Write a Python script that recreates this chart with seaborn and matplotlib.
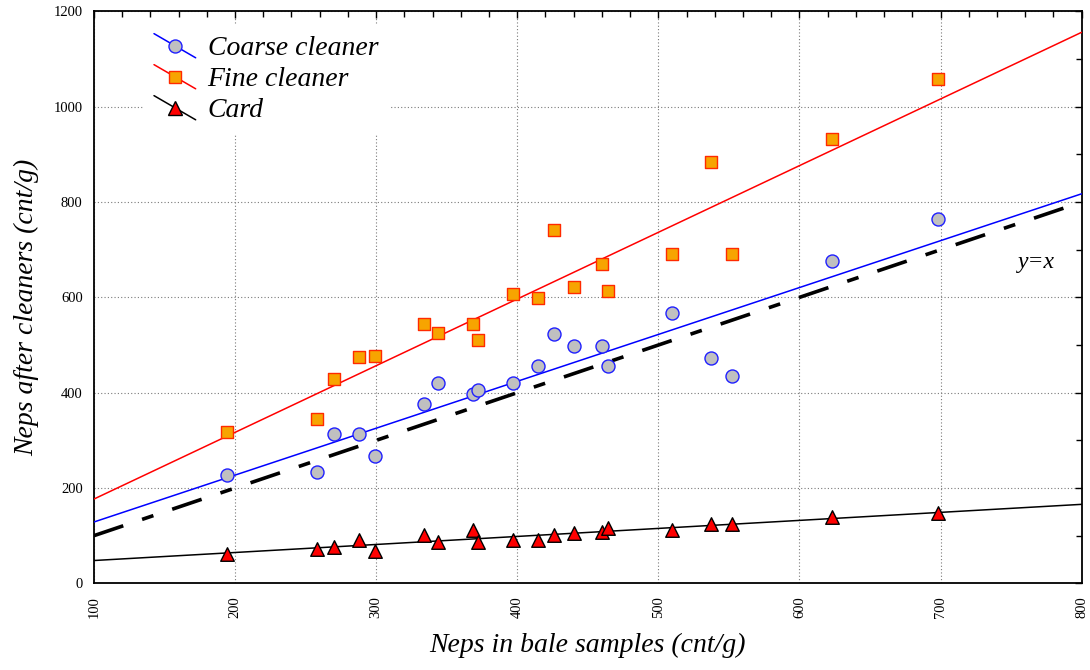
import matplotlib
matplotlib.use("Agg")
import matplotlib.pyplot as plt
import seaborn as sns
from matplotlib.lines import Line2D
from matplotlib.legend_handler import HandlerBase
from matplotlib.ticker import MultipleLocator

# Neps counts (cnt/g) for the 20 bale samples and after each processing stage
bale_neps = [194, 258, 270, 288, 299, 334, 344, 369, 372, 397,
             415, 426, 440, 460, 464, 510, 537, 552, 623, 698]
coarse_neps = [227, 234, 313, 313, 268, 376, 420, 398, 406, 420,
               457, 523, 498, 498, 457, 568, 472, 435, 676, 764]
fine_neps = [318, 344, 429, 474, 478, 544, 526, 544, 511, 607,
             599, 741, 622, 670, 614, 692, 885, 692, 932, 1059]
card_neps = [61, 72, 76, 91, 68, 102, 87, 112, 86, 90,
             90, 102, 105, 107, 116, 112, 124, 124, 139, 147]

series_labels = ["Coarse cleaner", "Fine cleaner", "Card"]
x_label = "Neps in bale samples (cnt/g)"
y_label = "Neps after cleaners (cnt/g)"

sns.set_style("white")
plt.rcParams.update({
    "font.family": ["Liberation Serif", "DejaVu Serif"],
    "text.color": "black",
    "axes.labelcolor": "black",
    "xtick.color": "black",
    "ytick.color": "black",
})

styles = [
    dict(marker="o", s=88, face="#c0c0c0", edge="#1f1fff", line="#0000ff"),
    dict(marker="s", s=64, face="#f7a400", edge="#ff2a00", line="#ff0000"),
    dict(marker="^", s=95, face="#ff0000", edge="#000000", line="#000000"),
]

fig = plt.figure(figsize=(10.9, 6.7), dpi=100)
ax = fig.add_axes([0.0861, 0.1293, 0.9063, 0.8537])
ax.set_xlim(100, 800)
ax.set_ylim(0, 1200)

for values, st in zip([coarse_neps, fine_neps, card_neps], styles):
    sns.regplot(
        x=bale_neps, y=values, ax=ax, ci=None, truncate=False,
        marker=st["marker"],
        scatter_kws=dict(s=st["s"], facecolor=st["face"], edgecolor=st["edge"],
                         linewidths=1.0, alpha=1, zorder=4),
        line_kws=dict(color=st["line"], lw=1.1, zorder=3),
    )

# identity reference line
ax.axline((0, 0), slope=1, color="black", lw=2.6,
          dashes=(8.6, 5.5, 3.3, 5.5), zorder=2)
ax.text(768, 674, "y=x", fontsize=17, style="italic", ha="center", va="center")

# axes, ticks and grid
ax.xaxis.set_major_locator(MultipleLocator(100))
ax.xaxis.set_minor_locator(MultipleLocator(20))
ax.yaxis.set_major_locator(MultipleLocator(200))
ax.yaxis.set_minor_locator(MultipleLocator(100))
ax.tick_params(which="both", direction="in", top=True, right=True,
               color="black", width=1)
ax.tick_params(which="major", length=5)
ax.tick_params(which="minor", length=4)
ax.tick_params(axis="x", labelrotation=90, labelsize=10.5, pad=9)
ax.tick_params(axis="y", labelsize=10.5, pad=8)
ax.grid(True, which="major", linestyle=(0, (1, 2)), color="#7a7a7a", lw=0.8)
ax.set_axisbelow(True)
for sp in ax.spines.values():
    sp.set_visible(True)
    sp.set_color("black")
    sp.set_linewidth(1.3)

ax.set_xlabel(x_label, fontsize=20, style="italic")
ax.set_ylabel(y_label, fontsize=20, style="italic")
ax.xaxis.set_label_coords(0.5, -0.087)
ax.yaxis.set_label_coords(-0.055, 0.483)


class DiagonalHandler(HandlerBase):
    """Legend key: a sloping line segment with the marker at its middle."""

    def create_artists(self, legend, orig_handle, xdescent, ydescent,
                       width, height, fontsize, trans):
        x0 = -xdescent
        x1 = x0 + width
        yc = -ydescent + height / 2
        dy = 0.29 * width
        seg = Line2D([x0, x1], [yc + dy, yc - dy],
                     color=orig_handle.get_color(), lw=orig_handle.get_linewidth())
        mk = Line2D([(x0 + x1) / 2], [yc], linestyle="none",
                    marker=orig_handle.get_marker(),
                    markersize=orig_handle.get_markersize(),
                    markerfacecolor=orig_handle.get_markerfacecolor(),
                    markeredgecolor=orig_handle.get_markeredgecolor(),
                    markeredgewidth=orig_handle.get_markeredgewidth())
        seg.set_transform(trans)
        mk.set_transform(trans)
        return [seg, mk]


handles = [
    Line2D([], [], color=st["line"], lw=1.1, marker=st["marker"],
           markersize=st["s"] ** 0.5, markerfacecolor=st["face"],
           markeredgecolor=st["edge"], markeredgewidth=1.0)
    for st in styles
]
leg = ax.legend(handles, series_labels,
                handler_map={Line2D: DiagonalHandler()},
                loc="upper left", bbox_to_anchor=(129 / 1090, 1 - 11 / 670),
                bbox_transform=fig.transFigure,
                prop=dict(size=20, style="italic"),
                handlelength=1.5, handletextpad=0.43, labelspacing=0.2,
                borderpad=0.4, frameon=True, fancybox=False,
                framealpha=1, facecolor="white", edgecolor="none")

fig.savefig("out.png", dpi=100)
